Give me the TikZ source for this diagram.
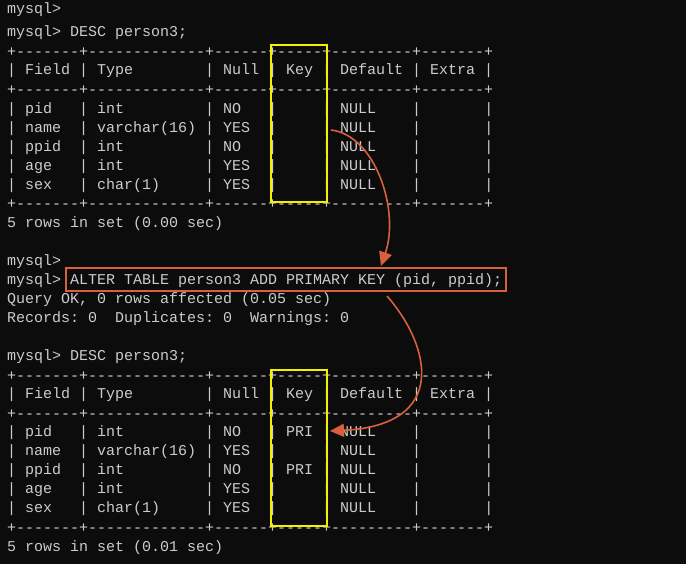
\documentclass[tikz,border=0pt]{standalone}
\usepackage{fontspec}
\setmonofont{Liberation Mono}
\usetikzlibrary{arrows.meta}
\definecolor{bg}{HTML}{0C0C0C}
\definecolor{fg}{HTML}{CCCCCC}
\definecolor{hy}{HTML}{F2F200}
\definecolor{hr}{HTML}{D8603C}
\begingroup\obeyspaces%
\gdef\Tb{+-------+-------------+------+-----+---------+-------+}%
\gdef\Th{| Field | Type        | Null | Key | Default | Extra |}%
\gdef\Ra{| pid   | int         | NO   |     | NULL    |       |}%
\gdef\Rb{| name  | varchar(16) | YES  |     | NULL    |       |}%
\gdef\Rc{| ppid  | int         | NO   |     | NULL    |       |}%
\gdef\Rd{| age   | int         | YES  |     | NULL    |       |}%
\gdef\Re{| sex   | char(1)     | YES  |     | NULL    |       |}%
\gdef\Pa{| pid   | int         | NO   | PRI | NULL    |       |}%
\gdef\Pc{| ppid  | int         | NO   | PRI | NULL    |       |}%
\gdef\Lq{Records: 0  Duplicates: 0  Warnings: 0}%
\endgroup
\begin{document}
\begin{tikzpicture}[x=1pt,y=-1pt,
  ln/.style={anchor=west,inner sep=0pt,text=fg,font=\fontsize{15pt}{15pt}\ttfamily},
  ybox/.style={draw=hy,line width=2pt},
  rbox/.style={draw=hr,line width=2pt},
  rarr/.style={draw=hr,line width=1.6pt,-{Triangle[length=14pt,width=13pt]}}]
\fill[bg] (0,0) rectangle (686,564);
\useasboundingbox (0,0) rectangle (686,564);
\def\s{19.04}
\def\o{14}
\node[ln] (l0) at (7,\o-4) {mysql>};
\node[ln] (l1) at (7,\o+1*\s) {mysql> DESC person3;};
\node[ln] (l2) at (7,\o+2*\s) {\Tb};
\node[ln] (l3) at (7,\o+3*\s) {\Th};
\node[ln] (l4) at (7,\o+4*\s) {\Tb};
\node[ln] (l5) at (7,\o+5*\s) {\Ra};
\node[ln] (l6) at (7,\o+6*\s) {\Rb};
\node[ln] (l7) at (7,\o+7*\s) {\Rc};
\node[ln] (l8) at (7,\o+8*\s) {\Rd};
\node[ln] (l9) at (7,\o+9*\s) {\Re};
\node[ln] (l10) at (7,\o+10*\s) {\Tb};
\node[ln] (l11) at (7,\o+11*\s) {5 rows in set (0.00 sec)};
\node[ln] (l13) at (7,\o+13*\s) {mysql>};
\node[ln] (l14p) at (7,\o+14*\s) {mysql>};
\node[ln] (l14) at (70,\o+14*\s) {ALTER TABLE person3 ADD PRIMARY KEY (pid, ppid);};
\node[ln] (l15) at (7,\o+15*\s) {Query OK, 0 rows affected (0.05 sec)};
\node[ln] (l16) at (7,\o+16*\s) {\Lq};
\node[ln] (l18) at (7,\o+18*\s) {mysql> DESC person3;};
\node[ln] (l19) at (7,\o+19*\s) {\Tb};
\node[ln] (l20) at (7,\o+20*\s) {\Th};
\node[ln] (l21) at (7,\o+21*\s) {\Tb};
\node[ln] (l22) at (7,\o+22*\s) {\Pa};
\node[ln] (l23) at (7,\o+23*\s) {\Rb};
\node[ln] (l24) at (7,\o+24*\s) {\Pc};
\node[ln] (l25) at (7,\o+25*\s) {\Rd};
\node[ln] (l26) at (7,\o+26*\s) {\Re};
\node[ln] (l27) at (7,\o+27*\s) {\Tb};
\node[ln] (l28) at (7,\o+28*\s) {5 rows in set (0.01 sec)};
\draw[ybox] (271,45) rectangle (327,202);
\draw[ybox] (271,370) rectangle (327,526);
\draw[rbox] (66,268) rectangle (506,291);
\coordinate (a1) at (331,130);
\coordinate (a2) at (381,266);
\coordinate (b1) at (387,296);
\coordinate (b2) at (330,431);
\draw[rarr] (a1) .. controls (375,135) and (400,210) .. (a2);
\draw[rarr] (b1) .. controls (430,345) and (450,425) .. (b2);
\end{tikzpicture}
\end{document}
